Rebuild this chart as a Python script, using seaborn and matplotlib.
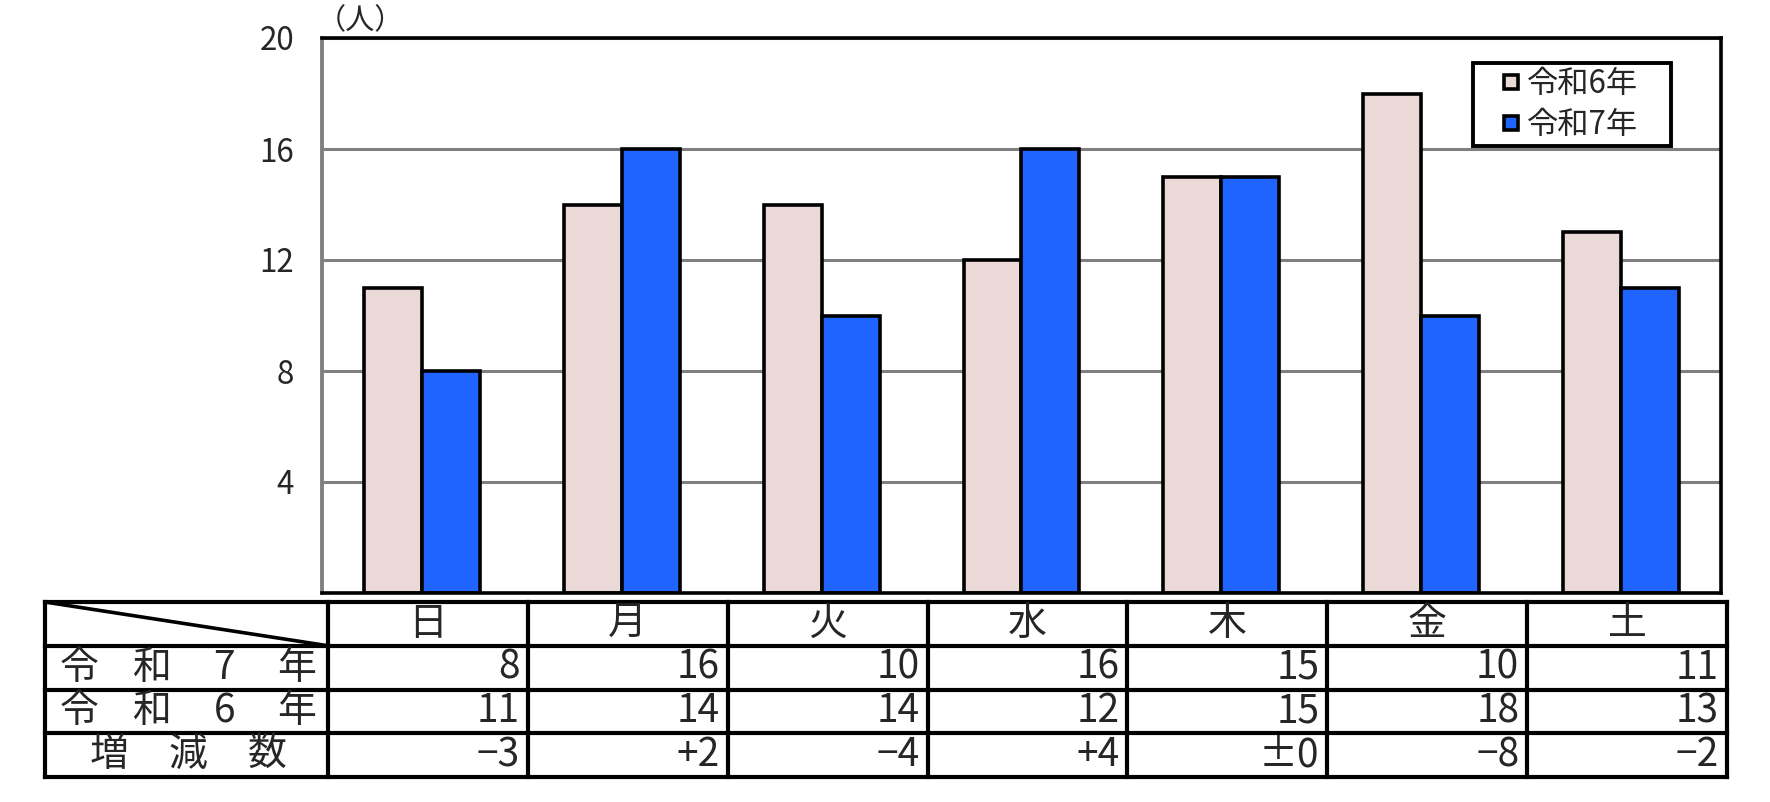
import pandas as pd
import numpy as np
import matplotlib
matplotlib.use('Agg')
import matplotlib.pyplot as plt
from matplotlib.lines import Line2D
import seaborn as sns

# datos
dias = ['日', '月', '火', '水', '木', '金', '土']
anios = ['令和6年', '令和7年']
r6 = [11, 14, 14, 12, 15, 18, 13]
r7 = [8, 16, 10, 16, 15, 10, 11]
zougen = ['−3', '+2', '−4', '+4', '±0', '−8', '−2']
filas = ['令和7年', '令和6年', '増減数']
yticks = [4, 8, 12, 16, 20]
colores = ['#EBD9D7', '#1F64FF']

df = pd.DataFrame({
    '曜日': dias * 2,
    '年': [anios[0]] * len(dias) + [anios[1]] * len(dias),
    '人数': r6 + r7,
})

sns.set_theme(style='white')
plt.rcParams['font.family'] = ['Noto Sans CJK JP', 'DejaVu Sans']

W, H = 1770, 802
fig = plt.figure(figsize=(W / 100, H / 100), dpi=100)

# grafico de barras
ax = fig.add_axes([322 / W, 1 - 593 / H, 1399 / W, 555 / H])
sns.barplot(data=df, x='曜日', y='人数', hue='年', order=dias, hue_order=anios,
            palette=colores, width=0.58, edgecolor='black', linewidth=2.6,
            saturation=1, legend=False, ax=ax)
ax.set_xlim(-0.5, len(dias) - 0.5)
ax.set_ylim(0, 20)
ax.set_yticks(yticks)
ax.set_yticklabels([str(v) for v in yticks])
ax.tick_params(axis='y', length=0, pad=20, labelsize=22.5)
ax.tick_params(axis='x', bottom=False, labelbottom=False)
ax.set_xlabel('')
ax.set_ylabel('')
ax.set_axisbelow(True)
ax.yaxis.grid(True, color='#808080', linewidth=2.2)
ax.xaxis.grid(False)
for lado in ['top', 'right', 'bottom']:
    ax.spines[lado].set_color('black')
    ax.spines[lado].set_linewidth(2.6)
ax.spines['left'].set_color('#808080')
ax.spines['left'].set_linewidth(2.8)

ax.text(-0.004, 1.003, '（人）', transform=ax.transAxes, ha='left', va='bottom', fontsize=21)

handles = [Line2D([], [], marker='s', linestyle='', markersize=10, markerfacecolor=c,
                  markeredgecolor='black', markeredgewidth=2.6) for c in colores]
leg = ax.legend(handles, anios, loc='upper left', bbox_to_anchor=(0.823, 0.807, 0.141, 0.148),
                mode='expand', borderaxespad=0, fontsize=22.5, handlelength=2.1,
                handletextpad=-0.55, labelspacing=0.3, borderpad=0.15,
                fancybox=False, framealpha=1)
leg.get_frame().set_edgecolor('black')
leg.get_frame().set_linewidth(2.8)

# tabla
tx = fig.add_axes([45 / W, 1 - 777 / H, 1682 / W, 175 / H])
x0 = -0.5 - 283 / 199.9
tx.set_xlim(x0, len(dias) - 0.5)
tx.set_ylim(4, 0)
tx.axis('off')

tx.hlines([0, 1, 2, 3, 4], x0, len(dias) - 0.5, colors='black', linewidth=3.0,
          clip_on=False, capstyle='projecting')
tx.vlines([x0, -0.5] + [i + 0.5 for i in range(len(dias))], 0, 4, colors='black',
          linewidth=3.0, clip_on=False, capstyle='projecting')
tx.plot([x0, -0.5], [0, 1], color='black', linewidth=2.6, clip_on=False)

fs = 28
for i, d in enumerate(dias):
    tx.text(i, 0.5, d, ha='center', va='center', fontsize=fs)
    tx.text(i + 0.46, 1.5, str(r7[i]), ha='right', va='center', fontsize=fs)
    tx.text(i + 0.46, 2.5, str(r6[i]), ha='right', va='center', fontsize=fs)
    tx.text(i + 0.46, 3.5, zougen[i], ha='right', va='center', fontsize=fs)

ancho = -0.5 - x0
for j, f in enumerate(filas):
    if len(f) == 4:
        pos = np.linspace(0.12, 0.89, 4)
    else:
        pos = np.linspace(0.225, 0.785, 3)
    for c, p in zip(f, pos):
        tx.text(x0 + p * ancho, j + 1.5, c, ha='center', va='center', fontsize=fs)

fig.savefig('out.png', dpi=100)
